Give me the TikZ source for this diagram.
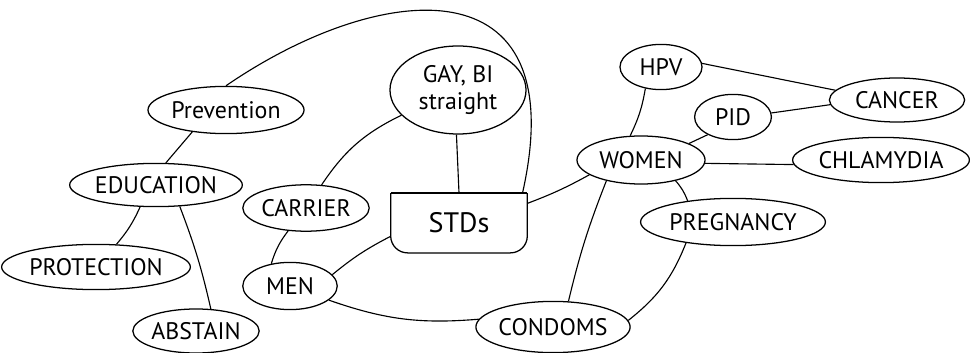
\documentclass[tikz,border=0pt]{standalone}
\usepackage{fontspec}
\setmainfont{PT Sans}
\usepackage{tikz}
\usetikzlibrary{shapes.geometric}
\tikzstyle{Bubble}=[ellipse, draw=black, line width=0.9pt, inner sep=0pt, font=\fontsize{17}{19}\selectfont]
\tikzstyle{Link}=[line width=0.8pt]

\begin{document}
\begin{tikzpicture}[x=0.025cm, y=-0.025cm]
    \useasboundingbox (0,0) rectangle (970,353);
    \path
    (226,110) node[Bubble, minimum width=3.9cm, minimum height=1.18cm] (prev) {Prevention}
    (156,185) node[Bubble, minimum width=3.9cm, minimum height=1.08cm] (edu) {EDUCATION}
    (96,267) node[Bubble, minimum width=4.3cm, minimum height=1.13cm] (prot) {PROTECTION}
    (196,331) node[Bubble, minimum width=3.05cm, minimum height=1.1cm] (abst) {ABSTAIN};

    \path
    (306,208) node[Bubble, minimum width=3.12cm, minimum height=1.16cm] (carrier) {CARRIER}
    (290,286) node[Bubble, minimum width=2.36cm, minimum height=1.18cm] (men) {MEN}
    (458,90) node[Bubble, minimum width=3.4cm, minimum height=2.2cm, align=center] (gay) {GAY, BI\\straight}
    (459,223) node[minimum width=3.4cm, minimum height=1.48cm, inner sep=0pt, font=\fontsize{20}{22}\selectfont] (stds) {STDs}
    (553,327) node[Bubble, minimum width=3.78cm, minimum height=1.28cm] (condoms) {CONDOMS};

    \path
    (641,160) node[Bubble, minimum width=3.2cm, minimum height=1.2cm] (women) {WOMEN}
    (661,67) node[Bubble, minimum width=2.05cm, minimum height=1.13cm] (hpv) {HPV}
    (733,117) node[Bubble, minimum width=1.92cm, minimum height=1.13cm] (pid) {PID}
    (897,100) node[Bubble, minimum width=3.38cm, minimum height=1.1cm] (cancer) {CANCER}
    (881,160) node[Bubble, minimum width=3.8cm, minimum height=1.13cm] (chlam) {CHLAMYDIA}
    (733,222) node[Bubble, minimum width=4.62cm, minimum height=1.18cm] (preg) {PREGNANCY};

    % STDs box, rounded at the bottom only
    \draw[line width=0.9pt, rounded corners=12pt] (stds.north west) -- (stds.south west) -- (stds.south east) -- (stds.north east);
    \draw[line width=0.9pt] (stds.north west) -- (stds.north east);

    \draw[Link] (prev.90) .. controls (380,-20) and (575,-40) .. ([xshift=-0.12cm]stds.north east);
    \draw[Link] (prev.213) -- (edu.66);
    \draw[Link] (edu.234) to[bend left=8] (prot.48);
    \draw[Link] (edu.318) to[bend left=4] (abst.56);

    \draw[Link] (gay.204) to[bend right=15] (carrier.56);
    \draw[Link] (gay.268) -- (stds.north);
    \draw[Link] (carrier.232) to[bend right=10] (men.130);
    \draw[Link] (men.15) to[bend left=6] (stds.191);
    \draw[Link] (men.340) to[bend right=12] (condoms.174);

    \draw[Link] (stds.16) to[bend right=4] (women.196);
    \draw[Link] (women.114) to[bend right=8] (hpv.234);
    \draw[Link] (women.19) -- (pid.215);
    \draw[Link] (women.357) -- (chlam.183);
    \draw[Link] (women.329) to[bend left=10] (preg.155);
    \draw[Link] (women.211) to[bend right=4] (condoms.59);
    \draw[Link] (preg.204) to[bend left=15] (condoms.5);
    \draw[Link] (hpv.5) -- (cancer.171);
    \draw[Link] (pid.6) -- (cancer.184);
\end{tikzpicture}
\end{document}
